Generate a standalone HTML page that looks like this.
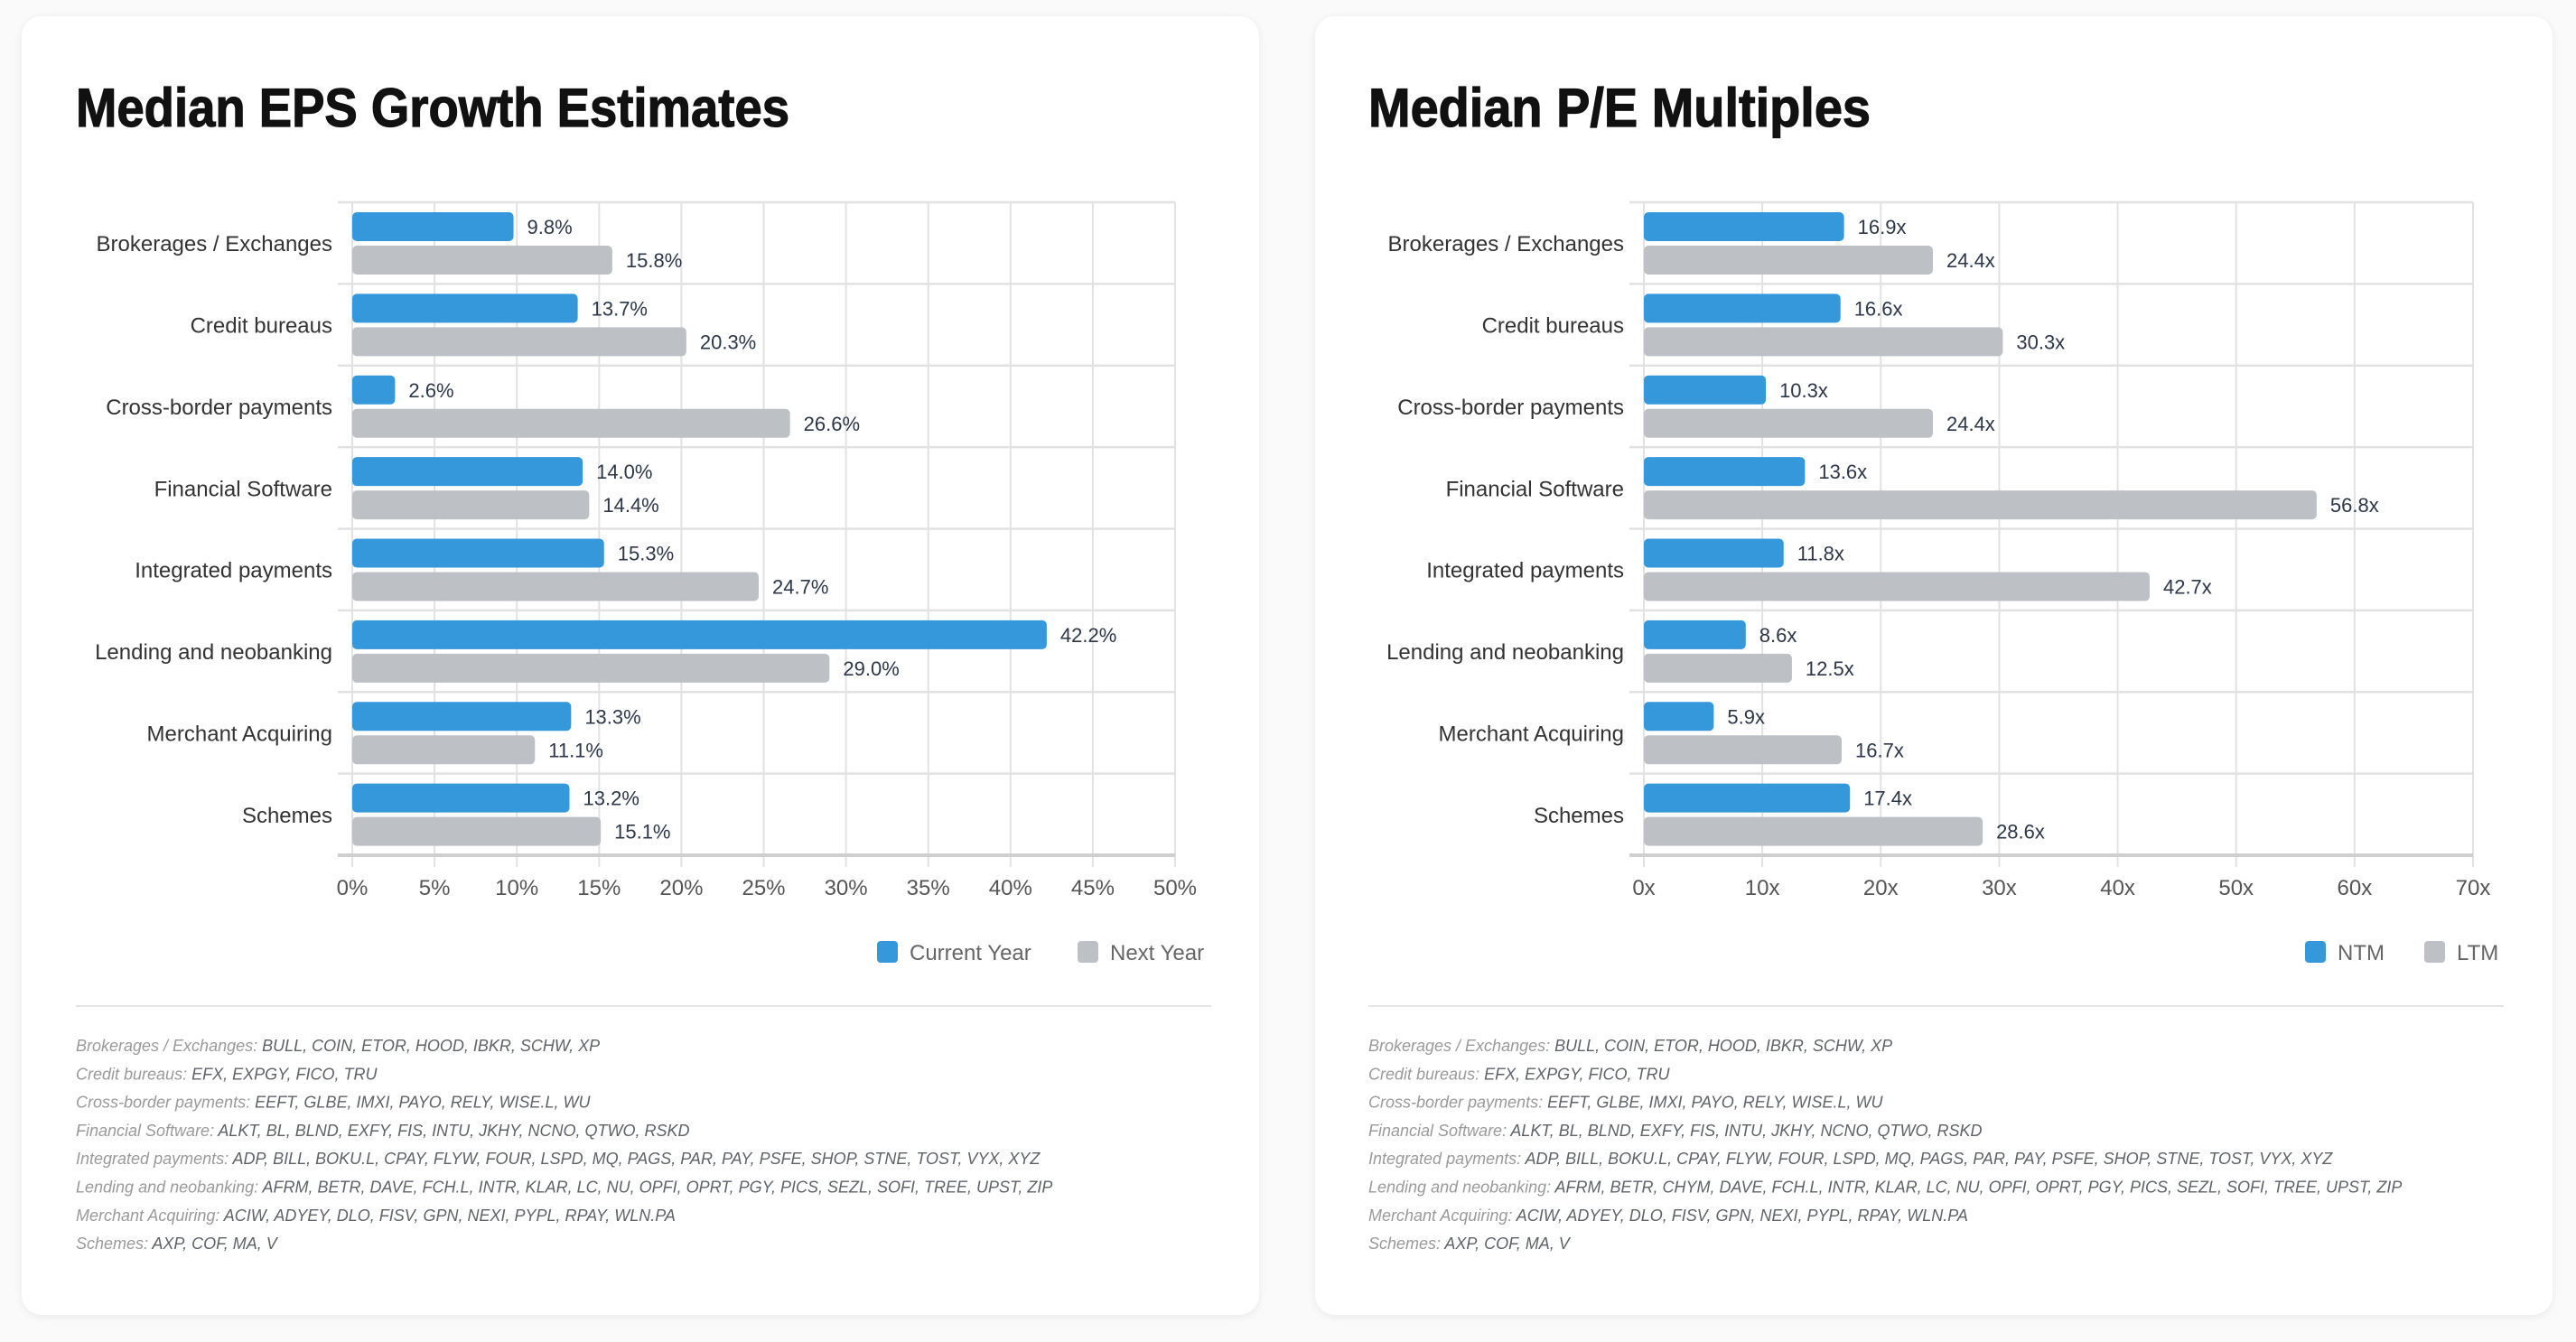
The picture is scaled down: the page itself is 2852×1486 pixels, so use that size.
<!DOCTYPE html>
<html><head><meta charset="utf-8"><style>
html,body{margin:0;padding:0;background:#fafafa;}
body{width:2852px;height:1486px;overflow:hidden;position:relative;font-family:"Liberation Sans",sans-serif;}
.card{position:absolute;top:18px;width:1370px;height:1438px;background:#fff;border-radius:22px;box-shadow:0 2px 10px rgba(0,0,0,0.07);}
svg{position:absolute;left:0;top:0;}
</style></head><body>
<div class="card" style="left:24px"></div>
<div class="card" style="left:1456px"></div>
<svg id="s" width="2852" height="1486"></svg>
<script>
const categories=["Brokerages / Exchanges","Credit bureaus","Cross-border payments","Financial Software","Integrated payments","Lending and neobanking","Merchant Acquiring","Schemes"];
const epsCurrent=[9.8,13.7,2.6,14.0,15.3,42.2,13.3,13.2];
const epsNext=[15.8,20.3,26.6,14.4,24.7,29.0,11.1,15.1];
const epsTicks=[0,5,10,15,20,25,30,35,40,45,50];
const peNtm=[16.9,16.6,10.3,13.6,11.8,8.6,5.9,17.4];
const peLtm=[24.4,30.3,24.4,56.8,42.7,12.5,16.7,28.6];
const peTicks=[0,10,20,30,40,50,60,70];
const notesA=[["Brokerages / Exchanges","BULL, COIN, ETOR, HOOD, IBKR, SCHW, XP"],["Credit bureaus","EFX, EXPGY, FICO, TRU"],["Cross-border payments","EEFT, GLBE, IMXI, PAYO, RELY, WISE.L, WU"],["Financial Software","ALKT, BL, BLND, EXFY, FIS, INTU, JKHY, NCNO, QTWO, RSKD"],["Integrated payments","ADP, BILL, BOKU.L, CPAY, FLYW, FOUR, LSPD, MQ, PAGS, PAR, PAY, PSFE, SHOP, STNE, TOST, VYX, XYZ"],["Lending and neobanking","AFRM, BETR, DAVE, FCH.L, INTR, KLAR, LC, NU, OPFI, OPRT, PGY, PICS, SEZL, SOFI, TREE, UPST, ZIP"],["Merchant Acquiring","ACIW, ADYEY, DLO, FISV, GPN, NEXI, PYPL, RPAY, WLN.PA"],["Schemes","AXP, COF, MA, V"]];
const notesB=notesA.map(r=>r.slice());
notesB[5][1]="AFRM, BETR, CHYM, DAVE, FCH.L, INTR, KLAR, LC, NU, OPFI, OPRT, PGY, PICS, SEZL, SOFI, TREE, UPST, ZIP";

const svg=document.getElementById('s');const NS="http://www.w3.org/2000/svg";
function el(t,a,txt){const e=document.createElementNS(NS,t);for(const k in a)e.setAttribute(k,a[k]);if(txt!==undefined)e.textContent=txt;svg.appendChild(e);return e;}

function chart(o){
  const top=224,bottom=947,L=o.L,R=o.R,band=(bottom-top)/categories.length;
  const max=o.ticks[o.ticks.length-1];
  const x=v=>L+(R-L)*v/max;
  let t=el('text',{x:o.cardL+60,y:140,'font-size':60,'font-weight':'bold',fill:'#111',stroke:'#111','stroke-width':1.2,textLength:o.titleW,lengthAdjust:'spacingAndGlyphs'},o.title);
  
  o.ticks.forEach(v=>{
    let g=el('line',{x1:x(v),x2:x(v),y1:top,y2:bottom+13,stroke:'#e2e2e2','stroke-width':2});
    
    let tl=el('text',{x:x(v),y:991,'font-size':24,fill:'#555','text-anchor':'middle'},v+o.suffix);
    
  });
  for(let i=0;i<=categories.length;i++){
    let h=el('line',{x1:L-16,x2:R,y1:top+i*band,y2:top+i*band,stroke:i==categories.length?'#cfcfcf':'#e2e2e2','stroke-width':i==categories.length?4:2.5});
    
  }
  categories.forEach((c,i)=>{
    const y0=top+i*band;
    let cl=el('text',{x:L-22,y:y0+band/2+9,'font-size':24,fill:'#333','text-anchor':'end'},c);
    
    [[o.a[i],'#3498db',11],[o.b[i],'#bdc1c5',48]].forEach(([v,col,off],k)=>{
      let b=el('rect',{x:L,y:y0+off,width:x(v)-L,height:32,rx:5,fill:col});
      
      let vl=el('text',{x:x(v)+15,y:y0+off+24,'font-size':22,fill:'#2d3748'},v.toFixed(1)+o.suffix);
      
    });
  });
  [[o.legA,o.lgx1,'#3498db',o.na],[o.legB,o.lgx2,'#bdc1c5',o.nb]].forEach(([n,lx,col,nm])=>{
    let r=el('rect',{x:lx,y:1042,width:23,height:24,rx:4,fill:col});
    
    let lt=el('text',{x:lx+36,y:1063,'font-size':24,fill:'#666'},n);
    
  });
  let d=el('line',{x1:o.cardL+60,x2:o.cardL+1317,y1:1114,y2:1114,stroke:'#e5e5e5','stroke-width':2});
  
  o.notes.forEach((n,i)=>{
    let ft=el('text',{x:o.cardL+60,y:1164+i*31.3,'font-size':18,'font-style':'italic'});
    
    const s1=document.createElementNS(NS,'tspan');s1.setAttribute('fill','#9a9a9a');s1.textContent=n[0]+': ';ft.appendChild(s1);
    const s2=document.createElementNS(NS,'tspan');s2.setAttribute('fill','#5f6368');s2.textContent=n[1];ft.appendChild(s2);
  });
}
chart({id:'eps',title:'Median EPS Growth Estimates',titleW:790,cardL:24,L:390,R:1301,ticks:epsTicks,suffix:'%',a:epsCurrent,b:epsNext,legA:'Current Year',legB:'Next Year',na:'current-year',nb:'next-year',lgx1:971,lgx2:1193,notes:notesA});
chart({id:'pe',title:'Median P/E Multiples',titleW:556,cardL:1455,L:1820,R:2738,ticks:peTicks,suffix:'x',a:peNtm,b:peLtm,legA:'NTM',legB:'LTM',na:'ntm',nb:'ltm',lgx1:2552,lgx2:2684,notes:notesB});
</script>
</body></html>
